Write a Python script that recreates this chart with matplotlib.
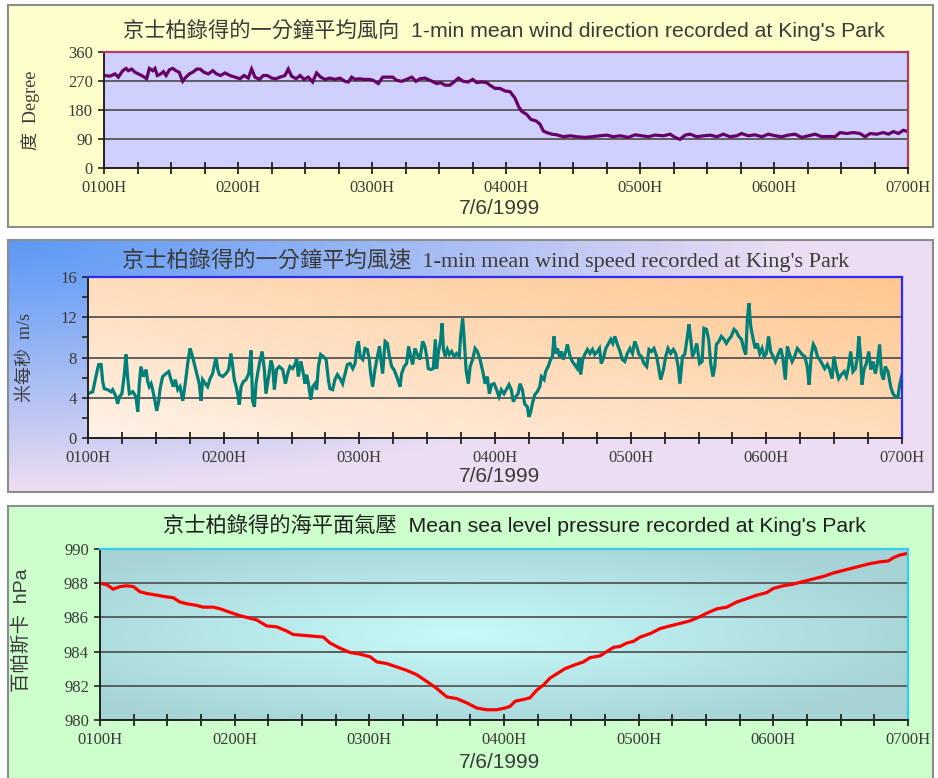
import numpy as np
import matplotlib
matplotlib.use("Agg")
import matplotlib.pyplot as plt
from matplotlib.patches import Rectangle
from matplotlib.ticker import MultipleLocator

# -------------------------------
# Data: King's Park, 7/6/1999, minutes after 0100H
# -------------------------------

hour_ticks = [0, 60, 120, 180, 240, 300, 360]
hour_labels = ["0100H", "0200H", "0300H", "0400H", "0500H", "0600H", "0700H"]

# 1-min mean wind direction (degrees)
dir_min = [0, 2.7, 4.9, 6.4, 8.4, 9.9, 10.9, 12.4, 13.9, 15.4, 16.9, 19.1, 20.3, 21.8, 22.8,
           23.9, 25.4, 26.6, 27.8, 29.3, 30.8, 32.2, 33.7, 35.2, 36.7, 38.2, 39.7, 41.5, 43.0,
           44.8, 46.7, 48.7, 50.4, 52.2, 54.2, 56.4, 58.7, 60.9, 62.7, 64.6, 66.1, 67.6, 69.6,
           71.3, 73.1, 75.1, 77.0, 78.8, 81.0, 82.5, 84.0, 86.0, 87.8, 89.6, 91.5, 93.4, 95.2,
           97.0, 99.0, 101.2, 103.4, 105.7, 107.9, 109.4, 110.9, 112.4, 114.3, 116.4, 118.8,
           120.6, 122.8, 124.8, 126.9, 129.3, 131.0, 133.3, 135.5, 137.8, 139.7, 141.5, 143.7,
           146.0, 147.5, 149.0, 150.7, 152.7, 154.9, 156.7, 158.7, 160.9, 163.1, 165.1, 166.9,
           169.1, 171.3, 172.8, 175.1, 177.3, 179.6,
           181.8, 184.1, 185.6, 187.0, 189.3, 191.1, 193.5, 195.2, 196.7, 198.2, 200.5, 202.7,
           205.7, 208.7, 211.7, 215.4, 218.4, 222.1, 225.1, 228.1, 231.1, 234.8, 237.8, 240.8,
           243.8, 246.7, 250.5, 253.5, 255.7, 257.9, 260.2, 262.4, 265.4, 268.4, 271.4, 274.4,
           277.3, 280.3, 283.3, 285.5, 288.5, 291.5, 294.5, 297.5, 300.5, 303.5, 306.4, 309.4,
           312.4, 315.4, 318.4, 321.4, 324.4, 327.3, 329.6, 332.6, 335.5, 338.5, 340.8, 343.0,
           346.0, 349.0, 351.2, 353.5, 355.7, 357.9, 360]
dir_deg = [287, 285, 292, 282, 302, 309, 302, 307, 297, 292, 287, 277, 309, 302, 309,
           287, 292, 299, 287, 305, 309, 302, 297, 269, 282, 292, 297, 307, 307,
           297, 292, 302, 292, 287, 295, 287, 282, 277, 287, 279, 307, 282, 275,
           287, 287, 279, 277, 282, 287, 307, 285, 277, 287, 275, 282, 267, 295,
           282, 275, 279, 275, 279, 269, 267, 282, 275, 277, 275, 275,
           272, 262, 282, 282, 282, 272, 269, 275, 282, 269, 277, 279,
           272, 267, 262, 265, 257, 257, 267, 279, 269, 267, 275, 265,
           267, 265, 257, 247, 247, 239,
           237, 216, 191, 176, 166, 151, 146, 136, 115, 110, 105, 103,
           97, 100, 97, 95, 97, 100, 102, 97, 100, 95, 103, 100,
           97, 102, 100, 105, 95, 89, 102, 105, 97, 100, 102, 97,
           105, 97, 100, 107, 100, 103, 97, 105, 100, 97, 102, 105,
           95, 100, 105, 97, 98, 97, 110, 107, 110, 107, 97, 107,
           105, 110, 105, 113, 107, 117, 113]

# 1-min mean wind speed (m/s)
spd_min = [0, 2.1, 3.5, 4.7, 5.8, 6.5, 7.2, 8.7, 10.2, 10.9, 12.4, 13.1, 13.9, 15.0, 16.1,
           16.8, 17.5, 18.3, 19.8, 21.2, 22.0, 22.7, 23.4, 24.5, 25.7, 26.4, 27.1, 27.9, 28.6,
           29.6, 30.4, 31.3, 31.8, 33.0, 34.5, 35.7, 36.7, 37.7, 38.6, 39.7, 40.7, 41.9, 43.0,
           44.1, 45.1, 46.0, 47.0, 48.1, 49.2, 50.0, 50.7, 51.9, 52.9, 54.0, 55.1, 56.6, 57.4,
           58.1, 59.6, 61.0, 62.2, 63.2, 64.0, 64.7, 65.5, 66.2, 66.9, 67.7, 68.7, 69.9, 71.1,
           72.1, 72.8, 73.6, 74.3, 75.0, 75.8, 77.0, 78.0, 78.7, 79.9, 80.9, 81.7, 82.4, 83.4,
           84.6, 86.1, 87.3, 88.3, 89.3, 90.5, 91.7,
           92.3, 93.0, 94.1, 94.9, 96.0, 96.7, 97.5, 98.5, 99.4, 100.4, 101.1, 101.9, 102.9,
           104.1, 105.3, 106.3, 107.0, 108.2, 109.2, 110.3, 111.5, 112.6, 113.7, 114.7, 115.9,
           117.1, 118.1, 118.8, 119.6, 120.3, 121.5, 122.5, 123.5, 124.4, 125.0, 125.9, 126.9,
           128.0, 128.9, 129.4, 130.3, 131.4, 132.4, 133.3, 134.3, 135.3, 136.2, 137.3, 138.0,
           138.7, 139.8, 140.9, 141.8, 142.7, 143.6, 144.6, 145.7, 146.8, 148.0, 149.0, 149.8,
           150.5, 151.6, 152.7, 153.6, 154.2, 154.9, 156.0, 156.6, 157.2, 158.0, 158.9, 159.8,
           160.8, 161.9, 163.0, 164.2, 164.8, 165.7, 166.3, 167.2, 168.2, 169.0, 170.1, 171.2,
           172.2, 173.4, 174.6, 175.6, 176.6, 177.5, 178.5, 179.6, 180.7,
           181.8, 182.8, 184.0, 185.2, 186.2, 187.2, 188.1, 189.2, 190.2, 191.1, 192.1, 193.1,
           194.3, 195.0, 195.8, 196.5, 197.6, 198.7, 199.8, 200.5, 201.7, 202.4, 203.5, 204.6,
           205.4, 206.1, 206.8, 207.6, 208.5, 209.4, 210.2, 211.3, 212.0, 213.2, 214.2, 215.2,
           216.4, 217.2, 217.9, 218.8, 219.7, 220.9, 222.0, 223.1, 224.1, 225.3, 226.2, 227.0,
           227.9, 229.0, 230.0, 231.2, 232.1, 233.0, 234.1, 235.3, 236.3, 237.4, 238.5, 239.7,
           240.8, 241.8, 242.7, 243.7, 244.7, 245.9, 247.1, 248.1, 249.2, 250.3, 251.5, 252.5,
           253.3, 254.5, 255.5, 256.5, 257.7, 258.9, 259.9, 261.0, 261.8, 262.9, 263.9, 265.1,
           265.8, 266.6, 267.3, 268.3, 269.2,
           270.5, 271.6, 272.4, 273.5, 274.5, 275.4, 276.4, 277.2, 277.9, 279.0, 280.1, 281.3,
           282.3, 283.4, 284.5, 285.7, 286.7, 287.8, 289.0, 290.1, 290.9, 291.6, 292.3, 293.1,
           294.1, 295.1, 296.0, 297.1, 298.1, 299.0, 300.0, 301.0, 301.9, 303.0, 304.0, 305.2,
           306.4, 307.4, 308.4, 309.3, 310.3, 311.4, 312.5, 313.7, 314.8, 315.8, 317.0, 318.1,
           318.9, 319.9, 320.8, 321.7, 322.6, 323.6, 324.6, 325.8, 327.0, 328.0, 329.1, 329.9,
           331.0, 332.0, 333.2, 334.4, 335.4, 336.4, 337.3, 338.3, 339.4, 340.3, 340.9, 341.7,
           342.3, 343.2, 344.2, 345.3, 346.2, 347.2, 348.2, 349.1, 350.1, 350.9, 351.8, 352.6,
           353.8, 355.0, 356.0, 357.1, 358.2, 359.0, 360]
spd_val = [4.4, 4.6, 6.1, 7.3, 7.3, 5.6, 4.9, 4.8, 4.6, 4.8, 4.1, 3.4, 4.1, 4.4, 6.4,
           8.3, 6.1, 4.4, 4.6, 4.1, 2.6, 5.4, 7.1, 6.1, 6.8, 5.6, 5.1, 5.4, 4.8,
           3.7, 2.7, 3.7, 4.8, 6.1, 6.4, 6.6, 5.8, 5.1, 5.8, 4.8, 5.1, 3.7, 5.4,
           7.4, 8.9, 8.3, 7.4, 6.4, 5.4, 3.7, 5.8, 5.4, 5.1, 5.9, 6.4, 8.0, 6.8,
           6.3, 6.1, 6.4, 6.8, 8.4, 7.1, 5.8, 5.1, 4.4, 3.3, 5.1, 5.6, 5.8, 6.4,
           8.7, 3.7, 3.1, 5.4, 6.4, 7.4, 8.6, 6.8, 4.4, 6.1, 7.7, 7.1, 4.8, 6.8,
           7.1, 6.8, 5.4, 6.4, 7.1, 6.9, 7.4,
           7.9, 6.1, 7.6, 6.8, 5.4, 6.3, 5.4, 3.8, 5.1, 5.4, 4.8, 7.1, 8.3,
           8.1, 7.8, 5.8, 4.9, 4.8, 5.8, 6.3, 5.9, 5.4, 6.4, 7.3, 7.4,
           6.9, 7.4, 8.9, 9.6, 8.1, 7.8, 8.9, 8.8, 7.8, 6.4, 5.1, 6.8,
           8.1, 9.1, 8.1, 6.4, 9.6, 9.4, 8.1, 7.1, 6.8, 6.3, 5.6, 5.1,
           6.4, 7.1, 7.4, 9.1, 8.1, 7.3, 8.9, 8.3, 7.8, 9.6, 9.1, 8.1,
           6.9, 6.8, 6.9, 9.8, 6.9, 8.4, 9.8, 11.4, 8.8, 8.1, 8.8, 8.3,
           8.6, 8.1, 8.4, 8.1, 10.1, 11.9, 10.1, 6.8, 5.4, 7.1, 7.8, 8.9,
           8.6, 7.8, 6.6, 5.4, 6.1, 4.4, 5.3, 5.4, 4.8,
           4.1, 4.8, 4.4, 4.9, 5.3, 4.8, 3.6, 4.1, 4.4, 5.4, 4.8, 3.4,
           3.1, 2.1, 2.6, 3.4, 4.3, 4.6, 5.1, 6.1, 5.8, 6.6, 7.1, 7.8,
           8.1, 10.1, 8.4, 8.9, 8.1, 8.6, 7.8, 8.6, 9.3, 8.1, 7.6, 7.3,
           6.9, 7.9, 6.3, 7.8, 8.3, 8.8, 8.4, 8.8, 8.3, 8.6, 8.9, 7.4,
           7.9, 8.9, 9.3, 9.8, 9.4, 10.1, 9.3, 8.6, 7.8, 7.6, 8.4, 8.9,
           8.4, 9.6, 9.1, 8.3, 8.1, 7.4, 7.1, 8.8, 8.6, 8.9, 8.1, 6.8,
           5.8, 6.8, 8.1, 8.9, 8.4, 8.8, 8.4, 7.1, 5.4, 8.1, 8.3, 10.1,
           11.3, 9.8, 8.1, 8.6, 9.4,
           7.4, 7.6, 10.9, 10.8, 9.8, 7.4, 6.1, 7.1, 9.3, 9.6, 10.1, 9.8,
           9.4, 9.8, 10.1, 10.8, 10.6, 10.1, 9.8, 8.8, 8.3, 11.8, 13.4, 11.1,
           9.9, 8.9, 9.4, 8.4, 8.9, 8.1, 8.4, 10.1, 8.6, 8.1, 7.6, 8.3,
           8.9, 7.8, 5.8, 9.1, 8.3, 7.6, 8.1, 8.9, 8.6, 8.3, 8.1, 7.1,
           5.3, 8.3, 9.3, 8.9, 8.1, 7.8, 7.4, 6.9, 7.3, 6.8, 5.9, 8.1,
           6.8, 5.9, 6.3, 6.6, 6.1, 7.1, 8.6, 6.6, 6.9, 8.1, 10.1, 8.1,
           5.3, 6.8, 7.4, 8.6, 6.8, 7.6, 6.4, 7.4, 9.3, 6.4, 5.8, 7.1,
           6.6, 5.1, 4.4, 4.1, 4.1, 5.3, 6.3]

# Mean sea level pressure (hPa)
prs_min = [0, 3.2, 5.9, 8.9, 11.9, 14.9, 17.8, 20.8, 25.2, 29.7, 32.7, 35.6, 38.6, 43.1,
           46.0, 50.5, 53.5, 57.9, 62.4, 66.8, 69.8, 74.3, 78.7, 83.2, 86.1, 90.6, 95.1,
           99.5, 102.5, 106.9, 111.4, 115.9, 120.3, 123.3, 127.8, 132.2, 136.7, 141.1, 145.6,
           150.0, 154.5, 159.0, 163.4,
           167.9, 172.3, 176.8, 180.5, 182.7, 185.0, 188.7, 191.6, 194.6, 197.6, 200.5, 203.5,
           207.2, 211.0, 215.4, 218.4, 222.8, 225.8, 228.8, 231.7, 234.7, 237.7, 240.7, 245.1,
           249.6, 254.0, 258.5, 262.9, 267.4, 270.4, 274.8, 279.3, 283.7, 288.2, 292.7, 297.1,
           300.1, 304.5, 309.0, 313.4, 317.9, 322.4, 326.8, 331.3, 334.2, 338.7, 343.2, 347.6,
           351.3, 353.6, 356.5, 360]
prs_hpa = [988.0, 987.9, 987.65, 987.8, 987.85, 987.8, 987.5, 987.4, 987.3, 987.2, 987.15,
           986.9, 986.8, 986.7, 986.6, 986.6, 986.5, 986.3, 986.1, 985.95, 985.85, 985.5,
           985.45, 985.2, 985.0, 984.95, 984.9, 984.85, 984.5, 984.2, 983.95, 983.85, 983.7,
           983.4, 983.3, 983.1, 982.9, 982.65, 982.25, 981.85, 981.35, 981.25, 981.0,
           980.7, 980.6, 980.6, 980.7, 980.8, 981.1, 981.2, 981.3, 981.75, 982.05, 982.45,
           982.7, 983.0, 983.2, 983.4, 983.65, 983.75, 984.0, 984.25, 984.3, 984.5, 984.6,
           984.85, 985.05, 985.35, 985.5, 985.65, 985.8, 986.05, 986.25, 986.5, 986.6, 986.9,
           987.1, 987.3, 987.45, 987.7, 987.85, 987.95, 988.1, 988.25, 988.4, 988.6, 988.75,
           988.85, 989.0, 989.15, 989.25, 989.3, 989.5, 989.65, 989.75]

# -------------------------------
# Layout helpers (pixel boxes -> figure fractions)
# -------------------------------

W, H = 938, 778
fig = plt.figure(figsize=(W / 100, H / 100), dpi=100)
fig.patch.set_facecolor("white")


def box(x0, y0, x1, y1):
    return [x0 / W, 1 - y1 / H, (x1 - x0) / W, (y1 - y0) / H]


def backdrop(rect, img, z):
    bg = fig.add_axes(rect, zorder=z)
    bg.imshow(img, extent=[0, 1, 0, 1], aspect="auto", interpolation="bilinear",
              origin="upper")
    bg.set_axis_off()
    return bg


def mix(c0, c1, t):
    c0 = np.array(c0)[None, None, :]
    c1 = np.array(c1)[None, None, :]
    return c0 + (c1 - c0) * t[..., None]


def frame(rect, z):
    fig.patches.append(Rectangle((rect[0], rect[1]), rect[2], rect[3],
                                 transform=fig.transFigure, fill=False,
                                 edgecolor="#8c8c8c", lw=1.5, zorder=z))


xx, yy = np.meshgrid(np.linspace(0, 1, 300), np.linspace(0, 1, 150))

sans_cjk = ["Liberation Sans", "Noto Sans CJK TC"]
serif_cjk = ["Liberation Serif", "Noto Sans CJK TC"]
txt_col = "#3a3a3a"


def style_axes(ax, edge_col, ymin, ymax, ystep, yminor=None):
    ax.set_facecolor("none")
    ax.set_xlim(0, 360)
    ax.set_ylim(ymin, ymax)
    ax.set_xticks(hour_ticks)
    ax.set_xticklabels(hour_labels)
    ax.xaxis.set_minor_locator(MultipleLocator(15))
    ax.yaxis.set_major_locator(MultipleLocator(ystep))
    if yminor:
        ax.yaxis.set_minor_locator(MultipleLocator(yminor))
    ax.yaxis.grid(True, color="#555555", lw=1.3)
    ax.set_axisbelow(True)
    for s in ("left", "bottom"):
        ax.spines[s].set_color("#222222")
        ax.spines[s].set_linewidth(1.4)
    for s in ("top", "right"):
        ax.spines[s].set_color(edge_col)
        ax.spines[s].set_linewidth(1.6)
    ax.tick_params(axis="x", which="both", direction="inout", length=8, width=1.3,
                   color="#222222", pad=5, labelsize=12, labelcolor=txt_col)
    ax.tick_params(axis="y", which="both", direction="out", length=4, width=1.2,
                   color="#222222", pad=4, labelsize=12, labelcolor=txt_col)
    for lab in ax.get_xticklabels() + ax.get_yticklabels():
        lab.set_family("Liberation Serif")


# -------------------------------
# Panel 1: wind direction
# -------------------------------

p1 = box(8, 5, 933, 227)
fig.patches.append(Rectangle((p1[0], p1[1]), p1[2], p1[3], transform=fig.transFigure,
                             facecolor="#ffffcc", edgecolor="none", zorder=0))
frame(p1, 1)

ax1 = fig.add_axes(box(104, 52, 908, 168), zorder=3)
style_axes(ax1, "#b03a6a", 0, 360, 90)
ax1.set_facecolor("#d0d0ff")
ax1.plot(dir_min, dir_deg, color="#660066", lw=2.3, solid_joinstyle="miter")

fig.text(0.537, 1 - 30 / H, "京士柏錄得的一分鐘平均風向  1-min mean wind direction recorded at King's Park",
         ha="center", va="center", fontsize=15.3, color=txt_col, family=sans_cjk)
fig.text(0.533, 1 - 208 / H, "7/6/1999", ha="center", va="center", fontsize=15,
         color=txt_col, family="Liberation Sans")
fig.text(30 / W, 1 - 110 / H, "度  Degree", ha="center", va="center", rotation=90,
         fontsize=13, color=txt_col, family=serif_cjk)

# -------------------------------
# Panel 2: wind speed
# -------------------------------

p2 = box(8, 240, 933, 492)
t2 = np.clip(np.sqrt((xx / 0.85) ** 2 + (yy / 1.0) ** 2), 0, 1) ** 1.1
backdrop(p2, mix((0.36, 0.60, 0.96), (0.93, 0.87, 0.95), t2), 1)
frame(p2, 2)

r2 = box(88, 277, 902, 438)
t2p = np.clip((xx + (1 - yy)) / 2, 0, 1)
backdrop(r2, mix((1.0, 0.95, 0.91), (1.0, 0.78, 0.56), t2p), 2)

ax2 = fig.add_axes(r2, zorder=3)
style_axes(ax2, "#2a2aff", 0, 16, 4, yminor=2)
ax2.plot(spd_min, spd_val, color="#008078", lw=2.3, solid_joinstyle="miter")

fig.text(0.518, 1 - 260 / H, "京士柏錄得的一分鐘平均風速  1-min mean wind speed recorded at King's Park",
         ha="center", va="center", fontsize=16, color=txt_col, family=serif_cjk)
fig.text(0.533, 1 - 476 / H, "7/6/1999", ha="center", va="center", fontsize=15,
         color=txt_col, family="Liberation Sans")
fig.text(25 / W, 1 - 358 / H, "米每秒  m/s", ha="center", va="center", rotation=90,
         fontsize=13, color=txt_col, family=serif_cjk)

# -------------------------------
# Panel 3: mean sea level pressure
# -------------------------------

p3 = box(8, 506, 933, 779)
fig.patches.append(Rectangle((p3[0], p3[1]), p3[2], p3[3], transform=fig.transFigure,
                             facecolor="#ccffcc", edgecolor="none", zorder=0))
frame(p3, 1)

r3 = box(100, 549, 908, 720)
d3 = np.clip(np.sqrt(((xx - 0.45) / 0.6) ** 2 + ((yy - 0.5) / 0.6) ** 2), 0, 1)
backdrop(r3, mix((0.78, 0.98, 0.98), (0.65, 0.83, 0.84), d3), 2)

ax3 = fig.add_axes(r3, zorder=3)
style_axes(ax3, "#33ccee", 980, 990, 2)
ax3.plot(prs_min, prs_hpa, color="#ff0000", lw=2.3, solid_joinstyle="miter")

fig.text(0.548, 1 - 525 / H, "京士柏錄得的海平面氣壓  Mean sea level pressure recorded at King's Park",
         ha="center", va="center", fontsize=15.3, color="#202020", family=sans_cjk)
fig.text(0.533, 1 - 763 / H, "7/6/1999", ha="center", va="center", fontsize=15,
         color=txt_col, family="Liberation Sans")
fig.text(21 / W, 1 - 630 / H, "百帕斯卡  hPa", ha="center", va="center", rotation=90,
         fontsize=14, color=txt_col, family=sans_cjk)

fig.savefig("out.png", dpi=100)
